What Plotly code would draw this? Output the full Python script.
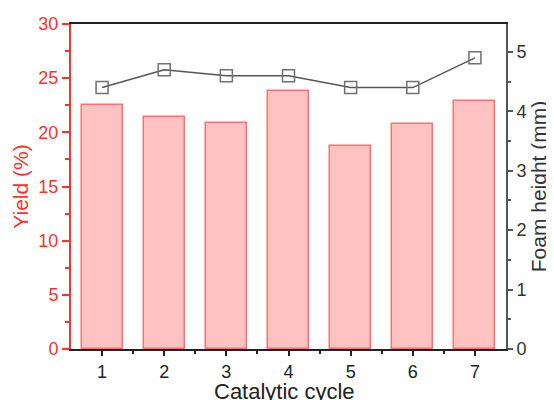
import plotly.graph_objects as go

cycles = [1, 2, 3, 4, 5, 6, 7]
yield_pct = [22.5, 21.4, 20.9, 23.8, 18.7, 20.8, 22.9]
foam_height = [4.4, 4.7, 4.6, 4.6, 4.4, 4.4, 4.9]

RED = "#ff3030"
GRAY = "#555555"
FONT = "Liberation Sans, Arial, sans-serif"

fig = go.Figure()
fig.add_trace(go.Bar(
    x=cycles, y=yield_pct, width=0.66,
    marker=dict(color="#ffc2c2", line=dict(color="#ff7070", width=1.5)),
    yaxis="y", showlegend=False,
))
fig.add_trace(go.Scatter(
    x=cycles, y=foam_height, mode="lines+markers",
    line=dict(color=GRAY, width=1.5),
    marker=dict(symbol="square-open", size=12, color="#707070", line=dict(width=1.5)),
    yaxis="y2", showlegend=False,
))

fig.add_annotation(
    text="Catalytic cycle", xref="paper", yref="paper", x=0.49, y=0,
    xanchor="center", yanchor="top", yshift=-28, showarrow=False,
    font=dict(size=22, color="#222222", family=FONT),
)

fig.update_layout(
    width=546, height=392,
    margin=dict(l=63, r=48, t=16, b=51),
    paper_bgcolor="white", plot_bgcolor="white",
    font=dict(family=FONT, size=18, color="#222222"),
    bargap=0,
    xaxis=dict(
        range=[0.5, 7.5], tickmode="array", tickvals=cycles,
        showgrid=False, zeroline=False,
        showline=True, linecolor="#222222", linewidth=2, mirror=True,
        ticks="outside", ticklen=5, tickwidth=1.5, tickcolor="#222222",
        minor=dict(ticks="outside", ticklen=3, tickwidth=1.5, tickcolor="#222222",
                   tickmode="array", tickvals=[1.5, 2.5, 3.5, 4.5, 5.5, 6.5]),
        tickfont=dict(size=18, color="#222222"),
        automargin=False,
    ),
    yaxis=dict(
        range=[0, 30], tickmode="array", tickvals=[0, 5, 10, 15, 20, 25, 30],
        showgrid=False, zeroline=False,
        showline=True, linecolor=RED, linewidth=2,
        ticks="outside", ticklen=7, tickwidth=1.5, tickcolor=RED,
        minor=dict(ticks="outside", ticklen=4, tickwidth=1.5, tickcolor=RED, dtick=2.5, tick0=0),
        tickfont=dict(size=18, color=RED),
        title=dict(text="Yield (%)", font=dict(size=21, color=RED), standoff=4),
        automargin=False,
    ),
    yaxis2=dict(
        range=[0, 5.47], overlaying="y", side="right",
        tickmode="array", tickvals=[0, 1, 2, 3, 4, 5],
        showgrid=False, zeroline=False,
        showline=True, linecolor=GRAY, linewidth=2,
        ticks="outside", ticklen=5, tickwidth=1.5, tickcolor=GRAY,
        minor=dict(ticks="outside", ticklen=3, tickwidth=1.5, tickcolor=GRAY, dtick=0.5, tick0=0),
        tickfont=dict(size=18, color="#333333"),
        title=dict(text="Foam height (mm)", font=dict(size=21, color="#333333"), standoff=4),
        automargin=False,
    ),
)

fig.write_html("out.html", config={"displayModeBar": False})
